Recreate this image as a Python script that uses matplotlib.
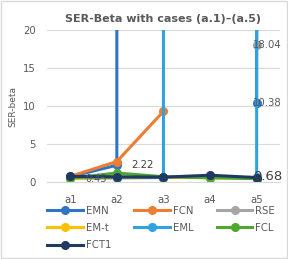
import matplotlib.pyplot as plt
import numpy as np
from matplotlib.patches import Rectangle

# ============================================================================
# DATOS
# ============================================================================

categorias = ['a1', 'a2', 'a3', 'a4', 'a5']
BIG = 1e6  # valores fuera de escala (la línea sale del gráfico)

emn = [0.70, 2.22, BIG, BIG, 10.38]
fcn = [0.75, 2.70, 9.30, np.nan, np.nan]
rse = [BIG, BIG, BIG, BIG, 18.04]
em_t = [0.45, 0.50, 0.60, 0.60, 0.55]
eml = [0.60, 0.60, 0.60, BIG, 0.68]
fcl = [0.50, 1.20, 0.70, 0.55, 0.45]
fct1 = [0.75, 0.70, 0.65, 0.90, 0.60]

series = [
    ('EMN', emn, '#2E75C6'),
    ('FCN', fcn, '#ED7D31'),
    ('RSE', rse, '#A5A5A5'),
    ('EM-t', em_t, '#FFC000'),
    ('EML', eml, '#2FA3E0'),
    ('FCL', fcl, '#4EA72E'),
    ('FCT1', fct1, '#1F3864'),
]

# ============================================================================
# GRÁFICO
# ============================================================================

fig = plt.figure(figsize=(2.88, 2.59), dpi=100)
fig.patches.append(Rectangle((0.003, 0.003), 0.994, 0.994, transform=fig.transFigure,
                             fill=False, edgecolor='#D9D9D9', linewidth=1))
ax = fig.add_axes([0.163, 0.297, 0.809, 0.587])

x = np.arange(len(categorias))
lineas = {}
for nombre, valores, color in series:
    l, = ax.plot(x, valores, '-o', color=color, linewidth=2.2, markersize=5.5,
                 label=nombre)
    lineas[nombre] = l

ax.set_xlim(-0.5, 4.5)
ax.set_ylim(0, 20)
ax.set_yticks([0, 5, 10, 15, 20])
ax.set_xticks(x)
ax.set_xticklabels(categorias)
ax.grid(axis='y', color='#D9D9D9', linewidth=0.8)
ax.set_axisbelow(True)
for s in ['left', 'right', 'top']:
    ax.spines[s].set_visible(False)
ax.spines['bottom'].set_color('#D9D9D9')
ax.tick_params(axis='y', length=0, labelsize=7.3, colors='#595959', pad=8)
ax.tick_params(axis='x', length=0, labelsize=7.3, colors='#595959', pad=9)
ax.set_ylabel('SER-beta', fontsize=6.5, color='#595959', labelpad=4)

ax.set_title('SER-Beta with cases (a.1)–(a.5)', fontsize=8, color='#595959',
             fontweight='bold', pad=6)

# etiquetas de datos
ax.text(0.32, 0.45, '0.45', fontsize=7, color='#595959', va='center')
ax.text(1.3, 2.2, '2.22', fontsize=7.3, color='#404040', va='center')
ax.text(3.93, 18.04, '18.04', fontsize=7.3, color='#595959', va='center')
ax.text(3.93, 10.38, '10.38', fontsize=7.3, color='#595959', va='center')
ax.text(3.93, 0.68, '0.68', fontsize=9.5, color='#404040', va='center')

# orden de la leyenda por filas (EMN FCN RSE / EM-t EML FCL / FCT1)
orden = ['EMN', 'EM-t', 'FCT1', 'FCN', 'EML', 'RSE', 'FCL']
leg = ax.legend([lineas[n] for n in orden], orden, loc='upper left',
                bbox_to_anchor=(-0.017, -0.13), ncol=3, frameon=False,
                fontsize=7.3, handlelength=3.5, handletextpad=0.3, columnspacing=2.3,
                labelspacing=0.7, borderaxespad=0)
for t in leg.get_texts():
    t.set_color('#595959')

plt.savefig('out.png', dpi=100)
plt.close()
